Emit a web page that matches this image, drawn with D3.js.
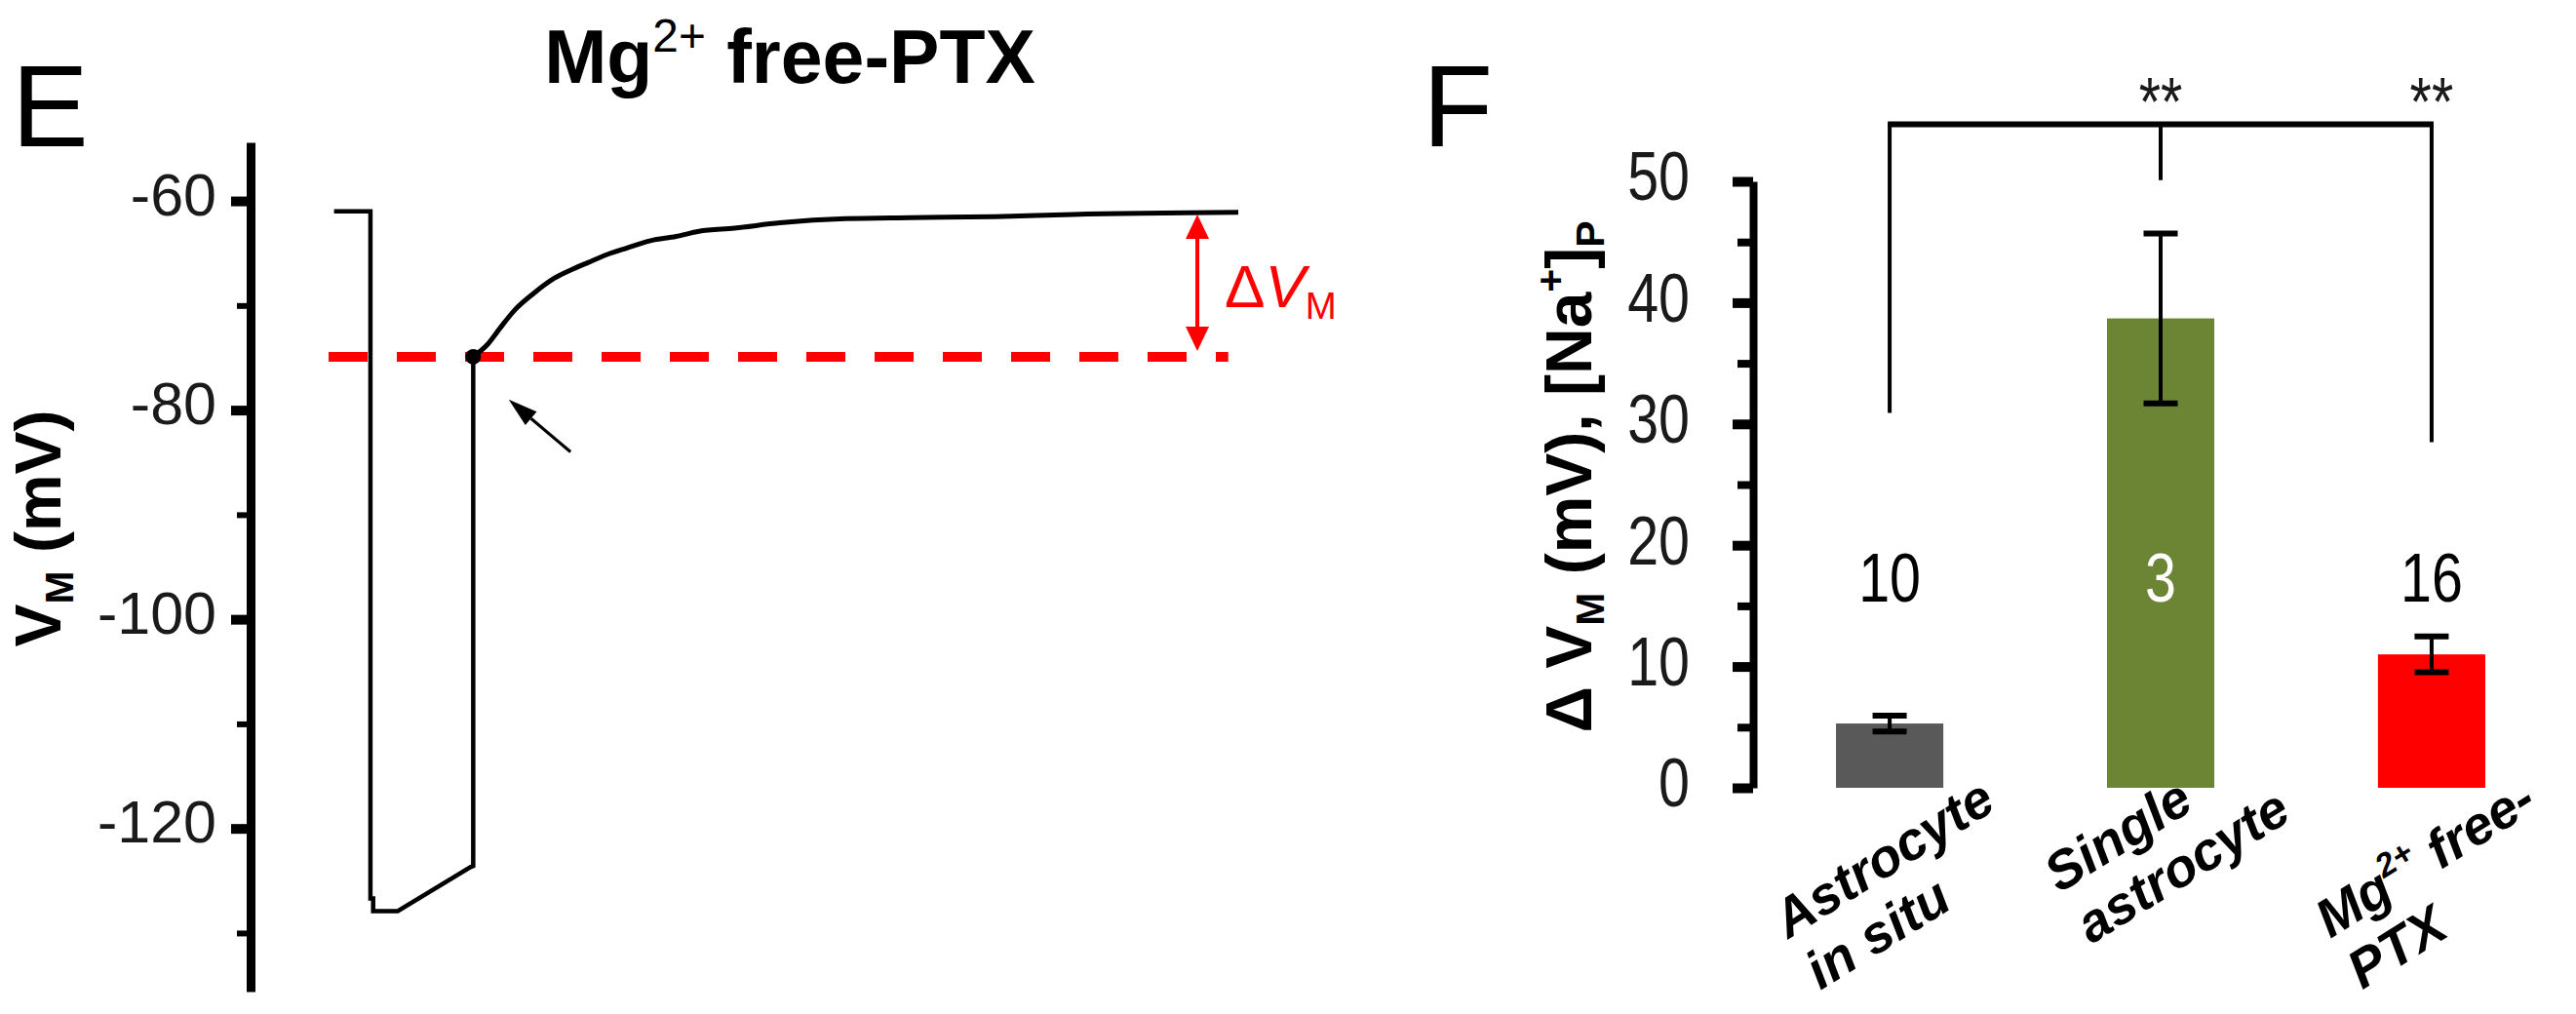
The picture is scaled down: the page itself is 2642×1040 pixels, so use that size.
<!DOCTYPE html>
<html>
<head>
<meta charset="utf-8">
<script src="https://cdn.jsdelivr.net/npm/d3@7"></script>
<style>
  html, body { margin: 0; padding: 0; background: #ffffff; }
  svg { display: block; }
</style>
</head>
<body>
<svg id="chart" width="2642" height="1040"></svg>
<script>
// ---------------- Panel E data (membrane potential trace) ----------------
const stepTime = [0.6, 4.6, 4.6, 4.9, 4.9, 7.6, 15.6, 15.9, 15.9];
const stepVm   = [-61.0, -61.0, -126.7, -126.7, -127.9, -127.9, -123.7, -123.6, -74.9];
const recoveryTime = [15.9, 17.5, 18.9, 20.5, 22.6, 24.8, 26.9, 28.5, 30.7, 32.8, 35.4, 38.2, 40.7, 44.6, 49.6, 56.8, 63.9, 73.2, 81.8, 100];
const recoveryVm   = [-74.9, -73.7, -72.1, -70.4, -68.8, -67.4, -66.5, -65.9, -65.1, -64.5, -63.8, -63.4, -62.9, -62.6, -62.1, -61.7, -61.6, -61.5, -61.3, -61.1];
const markerPoint = [15.9, -74.9];          // black dot at start of recovery
const dashedLevelTime = [0, 98.9];          // red dashed reference line extent
const dashedLevelVm = -74.9;
const deltaArrowTime = 95.5;                // red double arrow (ΔVM)
const deltaArrowVm = [-61.3, -74.35];
const pointerFrom = [26.6, -84.0];          // black pointer arrow (tail)
const pointerTo = [19.8, -79.0];            // black pointer arrow (head)
const vmMajorTicks = [-60, -80, -100, -120];
const vmMinorTicks = [-70, -90, -110, -130];
const titleE = [{t: "Mg"}, {t: "2+", k: "sup", w: "normal"}, {t: " free-PTX"}];
const yLabelE = [{t: "V"}, {t: "M", k: "sub"}, {t: " (mV)"}];
const deltaLabel = [{t: "\u0394"}, {t: "V", i: "italic"}, {t: "M", k: "sub"}];

// ---------------- Panel F data (bar chart) ----------------
const categories = ["Astrocyte in situ", "Single astrocyte", "Mg2+ free-PTX"];
const categoryLines = [
  [[{t: "Astrocyte"}], [{t: "in situ"}]],
  [[{t: "Single"}], [{t: "astrocyte"}]],
  [[{t: "Mg"}, {t: "2+", k: "sup"}, {t: " free-"}], [{t: "PTX"}]]
];
const meanValues = [5.3, 38.7, 11.0];
const semValues = [0.65, 7.0, 1.47];
const nCounts = ["10", "3", "16"];
const nLabelLevel = 15.35;
const barColors = ["#595959", "#6b8535", "#ff0000"];
const nLabelColors = ["#000000", "#ffffff", "#000000"];
const fMajorTicks = [0, 10, 20, 30, 40, 50];
const fMinorTicks = [5, 15, 25, 35, 45];
const bracketLevel = 54.7;
const bracketLegEnds = [30.9, 50.1, 28.5];
const sigLabels = [{cat: "Single astrocyte", t: "**"}, {cat: "Mg2+ free-PTX", t: "**"}];
const sigLabelLevel = 54.55;
const yLabelF = [{t: "\u0394 V"}, {t: "M", k: "sub"}, {t: " (mV), [Na"}, {t: "+", k: "sup"}, {t: "]"}, {t: "P", k: "sub"}];

// ---------------- helpers ----------------
const FONT = '"Liberation Sans", Arial, Helvetica, sans-serif';
const svg = d3.select("#chart");
svg.append("rect").attr("width", 2642).attr("height", 1040).attr("fill", "#ffffff");

function addRich(textSel, segs, size) {
  let off = 0;
  segs.forEach(s => {
    const kind = s.k || "n";
    const target = kind === "sup" ? -size * 0.42 : kind === "sub" ? size * 0.2 : 0;
    const ts = textSel.append("tspan").text(s.t).attr("dy", target - off);
    off = target;
    if (kind !== "n") ts.attr("font-size", size * 0.62);
    if (s.w) ts.attr("font-weight", s.w);
    if (s.i) ts.attr("font-style", s.i);
  });
  return textSel;
}

// ======================= PANEL E =======================
const xE = d3.scaleLinear().domain([0, 100]).range([337, 1270]);
const yE = d3.scaleLinear().domain([-135.6, -54.4]).range([1017, 146]);
const axisEX = 257;

const axE = svg.append("g").attr("transform", `translate(${axisEX},0)`);
axE.call(d3.axisLeft(yE).tickValues(vmMajorTicks).tickSize(20).tickSizeOuter(0).tickPadding(15).tickFormat(d => String(d)));
axE.select(".domain").attr("stroke", "#000").attr("stroke-width", 9);
axE.selectAll(".tick line").attr("stroke", "#000").attr("stroke-width", 10);
axE.selectAll(".tick text").attr("font-size", 61).attr("font-family", FONT).attr("fill", "#1a1a1a").attr("dy", "0.23em");

const axEm = svg.append("g").attr("transform", `translate(${axisEX},0)`);
axEm.call(d3.axisLeft(yE).tickValues(vmMinorTicks).tickSize(14).tickSizeOuter(0).tickFormat(""));
axEm.select(".domain").remove();
axEm.selectAll(".tick line").attr("stroke", "#000").attr("stroke-width", 6);

// Panel letter E
svg.append("text").attr("x", 12).attr("y", 150).attr("font-family", FONT).attr("font-size", 118).attr("fill", "#000").text("E");

// Title
addRich(svg.append("text").attr("x", 810).attr("y", 85).attr("text-anchor", "middle")
  .attr("font-family", FONT).attr("font-size", 77).attr("font-weight", "bold").attr("fill", "#000"), titleE, 77);

// Y label
addRich(svg.append("text").attr("transform", "translate(62,542) rotate(-90)").attr("text-anchor", "middle")
  .attr("font-family", FONT).attr("font-size", 66).attr("font-weight", "bold").attr("fill", "#000"), yLabelE, 66);

// red dashed level
svg.append("line")
  .attr("x1", xE(dashedLevelTime[0])).attr("x2", xE(dashedLevelTime[1]))
  .attr("y1", yE(dashedLevelVm)).attr("y2", yE(dashedLevelVm))
  .attr("stroke", "#ff0000").attr("stroke-width", 10).attr("stroke-dasharray", "40,30");

// trace: voltage step (linear) + recovery (smooth)
const stepData = stepTime.map((t, i) => [t, stepVm[i]]);
const recData = recoveryTime.map((t, i) => [t, recoveryVm[i]]);
svg.append("path").datum(stepData)
  .attr("d", d3.line().x(d => xE(d[0])).y(d => yE(d[1])))
  .attr("fill", "none").attr("stroke", "#000").attr("stroke-width", 4.5).attr("stroke-linejoin", "miter");
svg.append("path").datum(recData)
  .attr("d", d3.line().curve(d3.curveMonotoneX).x(d => xE(d[0])).y(d => yE(d[1])))
  .attr("fill", "none").attr("stroke", "#000").attr("stroke-width", 5);

// dot
svg.append("circle").attr("cx", xE(markerPoint[0])).attr("cy", yE(markerPoint[1])).attr("r", 8).attr("fill", "#000");

// red double arrow
(function () {
  const ax = xE(deltaArrowTime), yTop = yE(deltaArrowVm[0]), yBot = yE(deltaArrowVm[1]);
  const hl = 25, hw = 12;
  svg.append("line").attr("x1", ax).attr("x2", ax).attr("y1", yTop + hl - 2).attr("y2", yBot - hl + 2)
    .attr("stroke", "#ff0000").attr("stroke-width", 4);
  svg.append("path").attr("d", `M${ax},${yTop}L${ax - hw},${yTop + hl}L${ax + hw},${yTop + hl}Z`).attr("fill", "#ff0000");
  svg.append("path").attr("d", `M${ax},${yBot}L${ax - hw},${yBot - hl}L${ax + hw},${yBot - hl}Z`).attr("fill", "#ff0000");
})();

// ΔVM label
addRich(svg.append("text").attr("x", xE(deltaArrowTime) + 28).attr("y", 315)
  .attr("font-family", FONT).attr("font-size", 62).attr("fill", "#ff0000"), deltaLabel, 62);

// black pointer arrow
(function () {
  const x0 = xE(pointerFrom[0]), y0 = yE(pointerFrom[1]);
  const x1 = xE(pointerTo[0]), y1 = yE(pointerTo[1]);
  const ang = Math.atan2(y1 - y0, x1 - x0);
  const hl = 30, hw = 9;
  const bx = x1 - hl * Math.cos(ang), by = y1 - hl * Math.sin(ang);
  svg.append("line").attr("x1", x0).attr("y1", y0).attr("x2", bx).attr("y2", by)
    .attr("stroke", "#000").attr("stroke-width", 3);
  const px = -Math.sin(ang) * hw, py = Math.cos(ang) * hw;
  svg.append("path").attr("d", `M${x1},${y1}L${bx + px},${by + py}L${bx - px},${by - py}Z`).attr("fill", "#000");
})();

// ======================= PANEL F =======================
const axisFX = 1798;
const xF = d3.scaleBand().domain(categories).range([axisFX, 2634]).paddingInner(0.604).paddingOuter(0.306);
const yF = d3.scaleLinear().domain([0, 50]).range([808, 186]);
const cx = c => xF(c) + xF.bandwidth() / 2;
const NARROW = 0.82;

const axF = svg.append("g").attr("transform", `translate(${axisFX},0)`);
axF.call(d3.axisLeft(yF).tickValues(fMajorTicks).tickSize(21).tickSizeOuter(0).tickPadding(44).tickFormat(d => String(d)));
axF.select(".domain").attr("stroke", "#000").attr("stroke-width", 8);
axF.selectAll(".tick line").attr("stroke", "#000").attr("stroke-width", 10);
axF.selectAll(".tick text").attr("font-size", 70).attr("font-family", FONT).attr("fill", "#1a1a1a")
  .attr("x", -65 / NARROW).attr("dy", "0.27em").attr("transform", `scale(${NARROW},1)`);

const axFm = svg.append("g").attr("transform", `translate(${axisFX},0)`);
axFm.call(d3.axisLeft(yF).tickValues(fMinorTicks).tickSize(16).tickSizeOuter(0).tickFormat(""));
axFm.select(".domain").remove();
axFm.selectAll(".tick line").attr("stroke", "#000").attr("stroke-width", 8);

// Panel letter F
svg.append("text").attr("x", 1459).attr("y", 150).attr("font-family", FONT).attr("font-size", 118).attr("fill", "#000").text("F");

// Y label
addRich(svg.append("text").attr("transform", "translate(1632,489) rotate(-90)").attr("text-anchor", "middle")
  .attr("font-family", FONT).attr("font-size", 66).attr("font-weight", "bold").attr("fill", "#000"), yLabelF, 66);

// bars
svg.append("g").selectAll("rect").data(categories).join("rect")
  .attr("x", d => xF(d)).attr("width", xF.bandwidth())
  .attr("y", (d, i) => yF(meanValues[i])).attr("height", (d, i) => yF(0) - yF(meanValues[i]))
  .attr("fill", (d, i) => barColors[i]);

// error bars
const eb = svg.append("g").attr("stroke", "#000");
categories.forEach((c, i) => {
  const x = cx(c), hi = yF(meanValues[i] + semValues[i]), lo = yF(meanValues[i] - semValues[i]);
  eb.append("line").attr("x1", x).attr("x2", x).attr("y1", hi).attr("y2", lo).attr("stroke-width", 4);
  [hi, lo].forEach(yy => eb.append("line").attr("x1", x - 17.5).attr("x2", x + 17.5).attr("y1", yy).attr("y2", yy).attr("stroke-width", 6));
});

// n labels
categories.forEach((c, i) => {
  svg.append("text").attr("transform", `translate(${cx(c)},${yF(nLabelLevel)}) scale(${NARROW},1)`)
    .attr("text-anchor", "middle").attr("font-family", FONT).attr("font-size", 70)
    .attr("fill", nLabelColors[i]).text(nCounts[i]);
});

// significance bracket
(function () {
  const g = svg.append("g").attr("stroke", "#000");
  const xl = cx(categories[0]), xm = cx(categories[1]), xr = cx(categories[2]);
  const yb = yF(bracketLevel);
  g.append("line").attr("x1", xl - 2).attr("x2", xr + 2).attr("y1", yb).attr("y2", yb).attr("stroke-width", 6);
  [xl, xm, xr].forEach((x, i) => {
    g.append("line").attr("x1", x).attr("x2", x).attr("y1", yb).attr("y2", yF(bracketLegEnds[i])).attr("stroke-width", 4);
  });
  sigLabels.forEach(s => {
    svg.append("text").attr("transform", `translate(${cx(s.cat)},${yF(sigLabelLevel)}) scale(${NARROW},1)`)
      .attr("text-anchor", "middle").attr("font-family", FONT).attr("font-size", 70).attr("fill", "#1a1a1a").text(s.t);
  });
})();

// rotated category labels: line-1 start sits left of the bar centre,
// line-1 end baseline at a common height
const labelAngle = 32, labelSize = 55, labelLH = 62;
const labelStartDX = -104, labelEndBaseline = 829;
const rad = labelAngle * Math.PI / 180;
categories.forEach((c, i) => {
  const outer = svg.append("g");
  const inner = outer.append("g").attr("transform", `rotate(${-labelAngle})`);
  const texts = categoryLines[i].map((line, j) =>
    addRich(inner.append("text").attr("x", 0).attr("y", j * labelLH)
      .attr("font-family", FONT).attr("font-size", labelSize).attr("font-weight", "bold")
      .attr("font-style", "italic").attr("fill", "#000"), line, labelSize));
  const L1 = texts[0].node().getComputedTextLength();
  const sx = cx(c) + labelStartDX;
  const sy = labelEndBaseline + L1 * Math.sin(rad);
  outer.attr("transform", `translate(${sx},${sy})`);
});
</script>
</body>
</html>
